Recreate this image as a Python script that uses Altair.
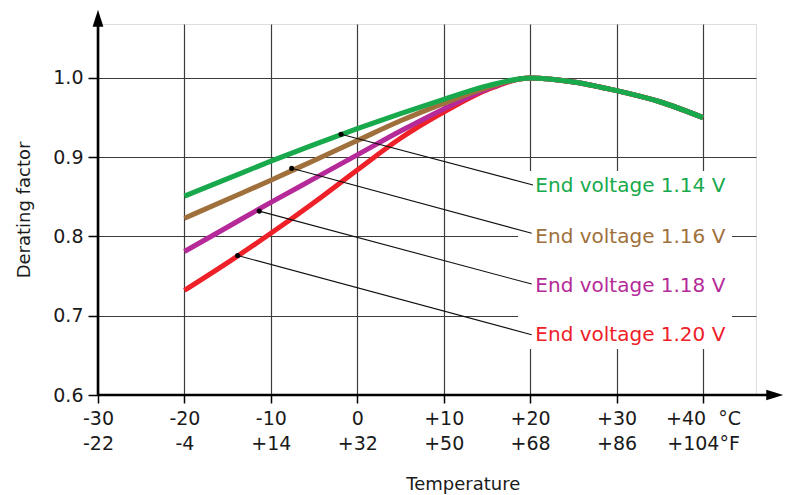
import altair as alt
import pandas as pd

# ---------------- data ----------------
temps = [-20, -15, -10, -5, 0, 5, 10, 15, 20, 25, 30, 35, 40]
v114 = [0.851, 0.873, 0.895, 0.916, 0.936, 0.955, 0.973, 0.990, 1.000, 0.995, 0.984, 0.970, 0.950]
v116 = [0.823, 0.847, 0.871, 0.896, 0.921, 0.946, 0.968, 0.988, 1.000, 0.995, 0.984, 0.970, 0.950]
v118 = [0.781, 0.812, 0.843, 0.873, 0.903, 0.933, 0.961, 0.986, 1.000, 0.995, 0.984, 0.970, 0.950]
v120 = [0.732, 0.767, 0.804, 0.843, 0.884, 0.924, 0.957, 0.985, 1.000, 0.995, 0.984, 0.970, 0.950]

series_names = ["End voltage 1.14 V", "End voltage 1.16 V", "End voltage 1.18 V", "End voltage 1.20 V"]
series_values = [v114, v116, v118, v120]
colors = ["#17A94B", "#A0703C", "#B52A98", "#EE2028"]

# annotation dots on the curves and leader-line ends at the labels
dot_t = [-1.88, -7.59, -11.34, -13.84]
dot_v = [0.929, 0.886, 0.832, 0.776]
lead_t = [20.33, 20.18, 20.18, 20.18]
lead_v = [0.865, 0.804, 0.740, 0.676]
label_t = [20.6, 20.6, 20.6, 20.6]
label_v = [0.8637, 0.7994, 0.7375, 0.6757]

x_ticks = [-30, -20, -10, 0, 10, 20, 30, 40]
cel_labels = ["-30", "-20", "-10", "0", "+10", "+20", "+30", "+40\u00a0\u00a0\u00b0C"]
fah_labels = ["-22", "-4", "+14", "+32", "+50", "+68", "+86", "+104\u00b0F"]
y_ticks = [0.6, 0.7, 0.8, 0.9, 1.0]

# ---------------- layout constants ----------------
X_MIN, X_MAX = -30, 46.13
Y_MIN, Y_MAX = 0.6, 1.0681
FONT = "DejaVu Sans"

label_expr = ""
for v, c, f in zip(x_ticks, cel_labels, fah_labels):
    label_expr += f"datum.value == {v} ? ['{c}', '{f}'] : "
label_expr += "''"

xs = alt.Scale(domain=[X_MIN, X_MAX], nice=False, zero=False)
ys = alt.Scale(domain=[Y_MIN, Y_MAX], nice=False, zero=False)

x_axis = alt.Axis(
    values=x_ticks, labelExpr=label_expr, grid=True, gridColor="#3c3c3c", gridWidth=1.2,
    domain=False, ticks=True, tickSize=8, tickColor="#000", tickWidth=1.5,
    labelFontSize=19, labelPadding=6, labelLineHeight=25, labelColor="#1a1a1a",
    labelFont=FONT, labelOverlap=False, labelFlush=False,
    title="Temperature", titleFont=FONT, titleFontSize=18, titleFontWeight="normal",
    titleColor="#1a1a1a", titleX=364.8, titleY=94, titleAlign="center",
    titleBaseline="alphabetic", titleAnchor="start",
)
y_axis = alt.Axis(
    values=y_ticks, format=".1f", grid=True, gridColor="#3c3c3c", gridWidth=1.2,
    domain=False, ticks=True, tickSize=10, tickColor="#000", tickWidth=1.5,
    labelFontSize=19, labelPadding=5, labelColor="#1a1a1a", labelFont=FONT,
    title="Derating factor", titleFont=FONT, titleFontSize=18, titleFontWeight="normal",
    titleColor="#1a1a1a", titleX=-68.5, titleY=185.5, titleAngle=270,
    titleAlign="center", titleBaseline="alphabetic", titleAnchor="start",
)


def X(field):
    return alt.X(f"{field}:Q", scale=xs, axis=x_axis)


def Y(field):
    return alt.Y(f"{field}:Q", scale=ys, axis=y_axis)


layers = []

# white box behind the labels (interrupts the grid as in the reference)
box_df = pd.DataFrame({"t": [18.6], "t2": [43.35], "v": [0.658], "v2": [0.8826]})
layers.append(
    alt.Chart(box_df).mark_rect(color="white").encode(
        x=X("t"), x2="t2", y=Y("v"), y2="v2"
    )
)

# curves, drawn red first and green last
for name, vals, col in reversed(list(zip(series_names, series_values, colors))):
    df = pd.DataFrame({"t": temps, "v": vals})
    layers.append(
        alt.Chart(df).mark_line(color=col, strokeWidth=5, interpolate="monotone",
                                strokeCap="butt").encode(x=X("t"), y=Y("v"))
    )

ann_df = pd.DataFrame({
    "series": series_names, "t": dot_t, "v": dot_v,
    "t2": lead_t, "v2": lead_v, "lt": label_t, "lv": label_v,
})

layers.append(
    alt.Chart(ann_df).mark_rule(color="#111", strokeWidth=1.1).encode(
        x=X("t"), y=Y("v"), x2="t2", y2="v2"
    )
)
layers.append(
    alt.Chart(ann_df).mark_point(filled=True, color="#000", size=26, opacity=1).encode(
        x=X("t"), y=Y("v")
    )
)
layers.append(
    alt.Chart(ann_df).mark_text(align="left", baseline="middle", font=FONT, fontSize=20).encode(
        x=X("lt"), y=Y("lv"), text="series:N",
        color=alt.Color("series:N", scale=alt.Scale(domain=series_names, range=colors), legend=None),
    )
)

# axis lines with arrow heads
ARROW_T = 48.3
ARROW_V = 1.0755
axis_df = pd.DataFrame({"t": [X_MIN, X_MIN], "v": [Y_MIN, Y_MIN],
                        "t2": [ARROW_T, X_MIN], "v2": [Y_MIN, ARROW_V]})
layers.append(
    alt.Chart(axis_df).mark_rule(color="#000", strokeWidth=2.6).encode(
        x=X("t"), y=Y("v"), x2="t2", y2="v2"
    )
)
arrow_right = pd.DataFrame({"t": [ARROW_T], "v": [Y_MIN]})
arrow_up = pd.DataFrame({"t": [X_MIN], "v": [ARROW_V]})
layers.append(
    alt.Chart(arrow_right).mark_point(filled=True, color="#000", opacity=1, size=289,
                                      shape="M1,0L-1,0.63L-1,-0.63Z").encode(x=X("t"), y=Y("v"))
)
layers.append(
    alt.Chart(arrow_up).mark_point(filled=True, color="#000", opacity=1, size=289,
                                   shape="M0,-1L0.63,1L-0.63,1Z").encode(x=X("t"), y=Y("v"))
)

chart = alt.layer(*layers).properties(
    width=658, height=371,
    autosize=alt.AutoSizeParams(type="none"),
    padding={"left": 90, "top": 16, "right": 28, "bottom": 100},
    background="white",
).configure_view(stroke=None).configure(font=FONT)

chart.save("out.html", embed_options={"renderer": "svg", "actions": False})
